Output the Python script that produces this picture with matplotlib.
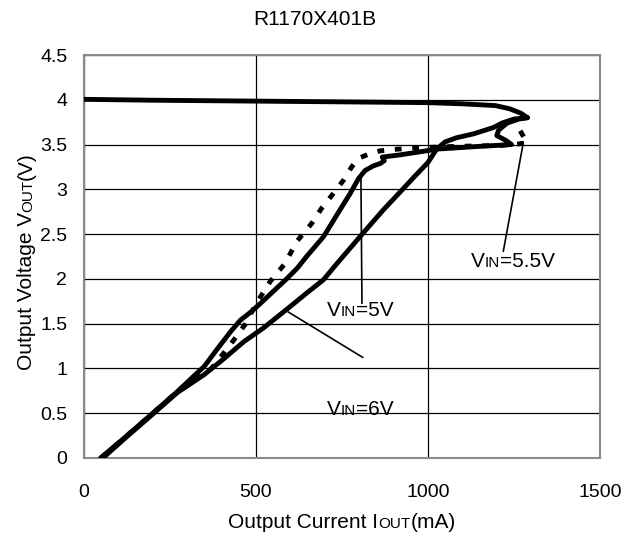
import matplotlib
matplotlib.use("Agg")
import matplotlib.pyplot as plt
import matplotlib.transforms as mtransforms

plt.rcParams['font.family'] = ['Liberation Sans', 'DejaVu Sans']

# ---------------- data (mA, V) ----------------
top_i = [0, 200, 500, 800, 1000, 1100, 1196, 1237, 1270, 1289]
top_v = [4.005, 3.995, 3.985, 3.975, 3.968, 3.955, 3.935, 3.90, 3.85, 3.80]

v6_i = [55, 116, 194, 271, 349, 407, 465, 521, 599, 650, 696, 735, 802, 870, 919,
        960, 1000, 1025, 1050, 1082, 1133, 1190, 1215, 1250, 1289]
v6_v = [0.0, 0.21, 0.47, 0.73, 0.93, 1.11, 1.30, 1.45, 1.69, 1.85, 1.99, 2.17, 2.47, 2.77, 2.97,
        3.14, 3.30, 3.45, 3.53, 3.575, 3.62, 3.69, 3.74, 3.785, 3.80]

v5_i = [48, 116, 194, 271, 329, 349, 388, 426, 455, 485, 514, 550, 589, 620, 647, 696, 744, 774,
        798, 817, 840, 862, 873, 867, 919, 1029, 1150, 1243, 1227, 1200, 1205, 1230, 1265, 1289]
v5_v = [0.0, 0.22, 0.48, 0.74, 0.95, 1.02, 1.22, 1.41, 1.54, 1.63, 1.73, 1.86, 2.0, 2.12, 2.25, 2.47, 2.77, 2.955,
        3.12, 3.21, 3.26, 3.29, 3.32, 3.36, 3.385, 3.45, 3.48, 3.50, 3.545, 3.60, 3.66, 3.74, 3.785, 3.80]

v55_i = [50, 116, 194, 271, 340, 368, 402, 436, 470, 500, 541, 584, 618, 662, 691, 725, 754,
         778, 798, 832, 861, 899, 957, 1013, 1083, 1151, 1209, 1250, 1289, 1279, 1264, 1253, 1245]
v55_v = [0.0, 0.22, 0.48, 0.74, 0.95, 0.99, 1.15, 1.32, 1.50, 1.72, 1.97, 2.17, 2.415, 2.62, 2.79, 2.955, 3.10,
         3.25, 3.346, 3.40, 3.43, 3.445, 3.46, 3.47, 3.48, 3.485, 3.49, 3.50, 3.52, 3.58, 3.68, 3.74, 3.79]

# annotation leader lines ((x0, y0), (x1, y1)) and label anchors (left, baseline)
lead_5 = ((805, 3.15), (808, 1.73))
lead_6 = ((594, 1.63), (810, 1.124))
lead_55 = ((1277, 3.52), (1219, 2.31))
lab_5 = (707, 1.585)
lab_6 = (707, 0.48)
lab_55 = (1125, 2.136)

x_ticks = [0, 500, 1000, 1500]
y_ticks = [0, 0.5, 1, 1.5, 2, 2.5, 3, 3.5, 4, 4.5]
y_labels = ['0', '0.5', '1', '1.5', '2', '2.5', '3', '3.5', '4', '4.5']
title = "R1170X401B"

# ---------------- figure ----------------
W, H = 639, 535
fig = plt.figure(figsize=(W / 100, H / 100), dpi=100)
L, R, T, B = 84, 600, 55, 458
ax = fig.add_axes([L / W, (H - B) / H, (R - L) / W, (B - T) / H])
ax.set_xlim(0, 1500)
ax.set_ylim(0, 4.5)
ax.set_xticks(x_ticks)
ax.set_xticklabels([str(t) for t in x_ticks])
ax.set_yticks(y_ticks)
ax.set_yticklabels(y_labels)
ax.tick_params(axis='both', length=0, labelsize=14)
ax.tick_params(axis='x', pad=19)
ax.tick_params(axis='y', pad=12)
ax.grid(True, color='black', lw=0.9)
ax.set_axisbelow(True)
for s in ax.spines.values():
    s.set_color('#8a8a8a')
    s.set_linewidth(1.5)

lw = 3.5
kw = dict(color='black', lw=lw, solid_capstyle='round', solid_joinstyle='round', zorder=4)
ax.plot(top_i, top_v, **kw)
ax.plot(v6_i, v6_v, **kw)
ax.plot(v5_i, v5_v, **kw)
ax.plot(v55_i, v55_v, color='black', lw=lw, linestyle=(0, (1.4, 2.2)), dash_capstyle='butt', zorder=4)

for (p0, p1) in (lead_5, lead_6, lead_55):
    ax.plot([p0[0], p1[0]], [p0[1], p1[1]], color='black', lw=1.2, zorder=3)

renderer = fig.canvas.get_renderer()


def mixed(x, y, parts, transform, rotation=0, center=False):
    widths = []
    for s, size in parts:
        t = fig.text(0, 0, s, fontsize=size)
        widths.append(t.get_window_extent(renderer).width)
        t.remove()
    total = sum(widths)
    off = -total / 2 if center else 0.0
    for (s, size), w in zip(parts, widths):
        if rotation:
            tr = mtransforms.offset_copy(transform, fig=fig, x=0, y=off, units='dots')
        else:
            tr = mtransforms.offset_copy(transform, fig=fig, x=off, y=0, units='dots')
        fig.text(x, y, s, fontsize=size, transform=tr, ha='left', va='baseline',
                 rotation=rotation, rotation_mode='anchor', color='black')
        off += w


ident = mtransforms.IdentityTransform()
# title
fig.text(314.7 / W, (H - 25) / H, title, fontsize=15, ha='center', va='baseline')
# axis labels
mixed(342, H - 528, [("Output Current I", 15), ("OUT", 11), ("(mA)", 15)], ident, center=True)
mixed(32, H - 261, [("Output Voltage V", 15), ("OUT", 11), ("(V)", 15)], ident, rotation=90, center=True)
# curve labels
mixed(lab_5[0], lab_5[1], [("V", 15), ("IN", 11), ("=5V", 15)], ax.transData)
mixed(lab_6[0], lab_6[1], [("V", 15), ("IN", 11), ("=6V", 15)], ax.transData)
mixed(lab_55[0], lab_55[1], [("V", 15), ("IN", 11), ("=5.5V", 15)], ax.transData)

fig.savefig("out.png", dpi=100)
